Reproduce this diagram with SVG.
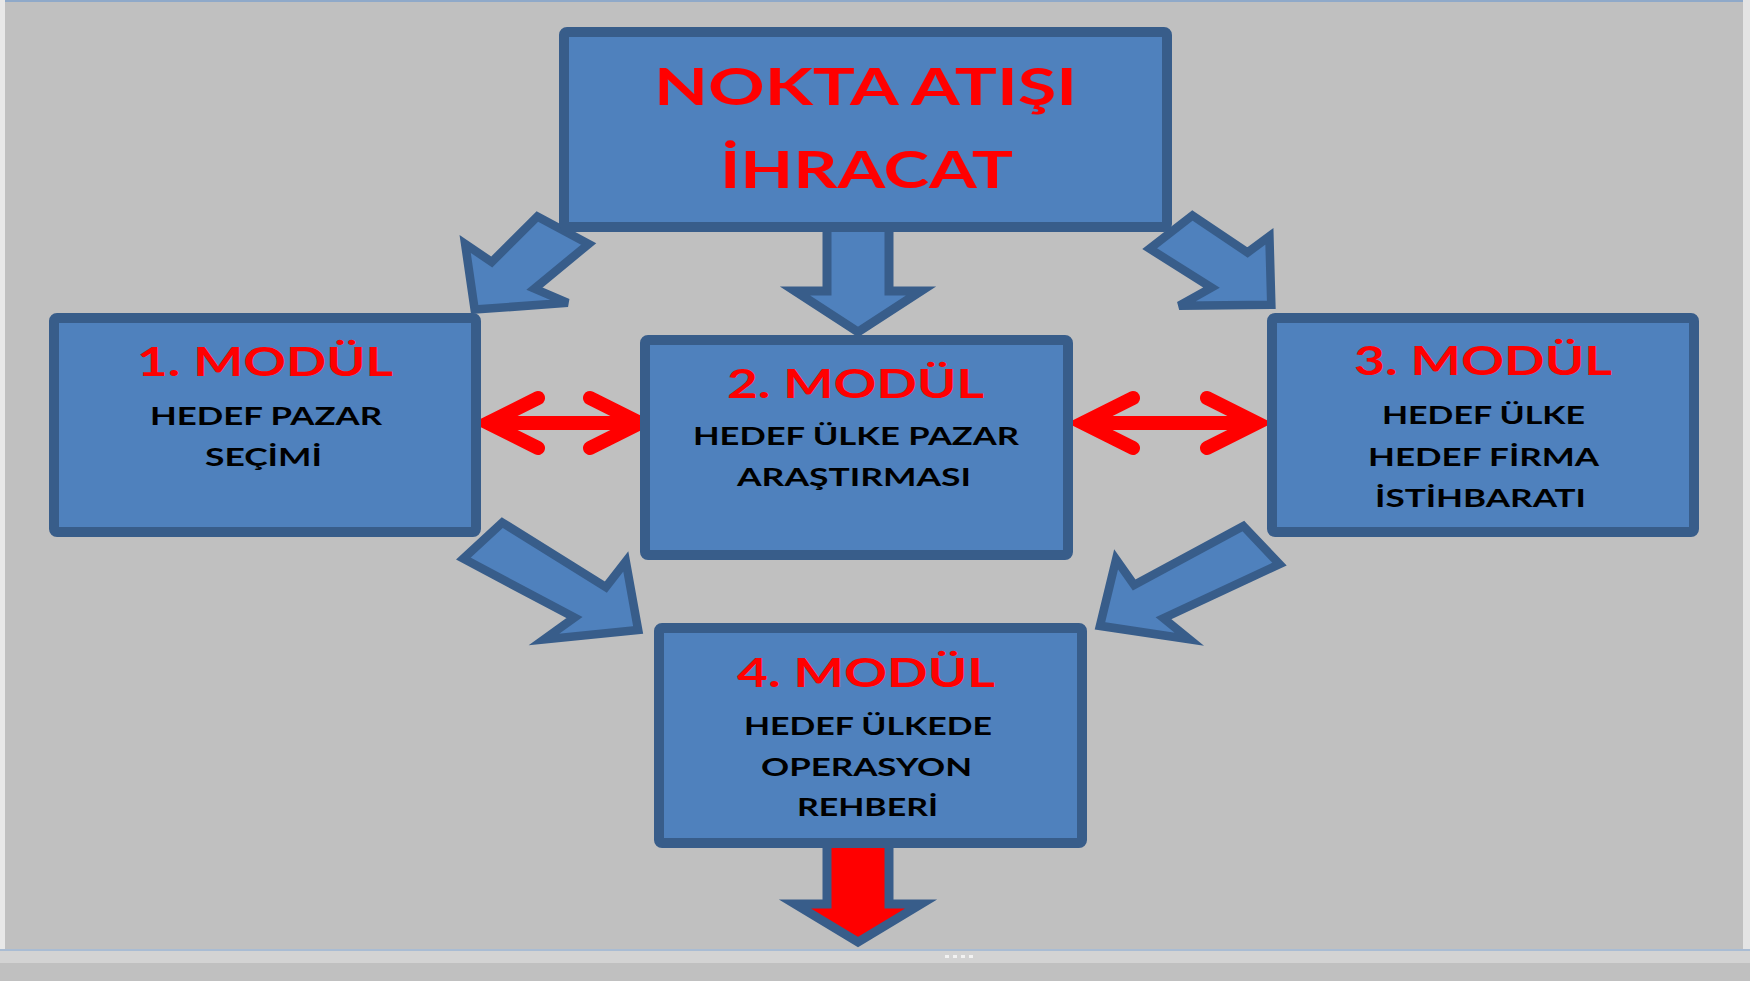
<svg xmlns="http://www.w3.org/2000/svg" width="1750" height="981" viewBox="0 0 1750 981">
  <defs>
    <style>
      .box { fill: #4f81bd; stroke: #385d8a; stroke-width: 10; }
      .barrow { fill: #4f81bd; stroke: #385d8a; stroke-width: 9; stroke-linejoin: miter; }
      .rarrow { fill: #ff0000; stroke: #385d8a; stroke-width: 9; stroke-linejoin: miter; }
      .dbl { fill: none; stroke: #ff0000; stroke-width: 14; stroke-linecap: round; stroke-linejoin: miter; stroke-miterlimit: 6; }
      .t { font-family: Lato, "Open Sans", "Liberation Sans", sans-serif; font-weight: 700; text-anchor: middle; }
      .title { fill: #ff0000; font-size: 52px; }
      .mod { fill: #ff0000; font-size: 40px; }
      .body { fill: #000000; font-size: 25px; }
    </style>
  </defs>

  <!-- background / frame -->
  <rect x="0" y="0" width="1750" height="981" fill="#c0c0c0"/>
  <rect x="0" y="0" width="1750" height="2" fill="#8fa9c9"/>
  <rect x="0" y="0" width="5" height="949" fill="#e8e8e8"/>
  <rect x="1743" y="0" width="7" height="949" fill="#e4e4e4"/>
  <rect x="0" y="949" width="1750" height="2" fill="#a9bcd3"/>
  <rect x="0" y="951" width="1750" height="12" fill="#d3d3d3"/>
  <g fill="#f2f2f2">
    <rect x="945" y="955" width="4" height="3"/>
    <rect x="953" y="955" width="4" height="3"/>
    <rect x="961" y="955" width="4" height="3"/>
    <rect x="969" y="955" width="4" height="3"/>
  </g>

  <!-- connectors -->
  <g id="connectors">
    <polygon class="barrow" points="538,214 592,243 535,290 570,305 472,312 462,243 490,262" transform="translate(525,262) scale(0.95) translate(-525,-262)"/>
    <polygon class="barrow" points="827,225 889,225 889,291 921,291 858,332 795,291 827,291"/>
    <polygon class="barrow" points="1191,213 1249,252 1272,235 1274,307 1177,308 1211,289 1146,248" transform="translate(1220,262) scale(0.95) translate(-1220,-262)"/>
    <polygon class="barrow" points="499,519 608,587 629,560 642,632 543,642 575,619 458,557" transform="translate(565,590) scale(0.95) translate(-565,-590)"/>
    <polygon class="barrow" points="1247,523 1285,563 1163,620 1190,642 1096,628 1113,558 1132,585" transform="translate(1175,585) scale(0.95) translate(-1175,-585)"/>
    <polygon class="rarrow" points="827,843 889,843 889,904 921,904 858,942 795,904 827,904"/>
    <path class="dbl" d="M490,423 H638 M538,398 L488,423 L538,448 M590,398 L640,423 L590,448"/>
    <path class="dbl" d="M1085,423 H1255 M1133,398 L1083,423 L1133,448 M1207,398 L1257,423 L1207,448"/>
  </g>

  <!-- nodes -->
  <g id="node-top">
    <rect class="box" x="564" y="32" width="603" height="195" rx="3"/>
    <text class="t title" x="865.5" y="105" textLength="423" lengthAdjust="spacingAndGlyphs">NOKTA ATIŞI</text>
    <text class="t title" x="866.5" y="188" textLength="293" lengthAdjust="spacingAndGlyphs">İHRACAT</text>
  </g>
  <g id="node-modul1">
    <rect class="box" x="54" y="318" width="422" height="214" rx="3"/>
    <text class="t mod" x="265" y="376" textLength="256" lengthAdjust="spacingAndGlyphs">1. MODÜL</text>
    <text class="t body" x="266" y="425" textLength="232" lengthAdjust="spacingAndGlyphs">HEDEF PAZAR</text>
    <text class="t body" x="263.5" y="466" textLength="117" lengthAdjust="spacingAndGlyphs">SEÇİMİ</text>
  </g>
  <g id="node-modul2">
    <rect class="box" x="645" y="340" width="423" height="215" rx="3"/>
    <text class="t mod" x="855.5" y="398" textLength="257" lengthAdjust="spacingAndGlyphs">2. MODÜL</text>
    <text class="t body" x="856" y="445" textLength="326" lengthAdjust="spacingAndGlyphs">HEDEF ÜLKE PAZAR</text>
    <text class="t body" x="854" y="486" textLength="234" lengthAdjust="spacingAndGlyphs">ARAŞTIRMASI</text>
  </g>
  <g id="node-modul3">
    <rect class="box" x="1272" y="318" width="422" height="214" rx="3"/>
    <text class="t mod" x="1483" y="375" textLength="258" lengthAdjust="spacingAndGlyphs">3. MODÜL</text>
    <text class="t body" x="1483.5" y="424" textLength="203" lengthAdjust="spacingAndGlyphs">HEDEF ÜLKE</text>
    <text class="t body" x="1483.5" y="466" textLength="231" lengthAdjust="spacingAndGlyphs">HEDEF FİRMA</text>
    <text class="t body" x="1480.5" y="507" textLength="211" lengthAdjust="spacingAndGlyphs">İSTİHBARATI</text>
  </g>
  <g id="node-modul4">
    <rect class="box" x="659" y="628" width="423" height="215" rx="3"/>
    <text class="t mod" x="866" y="687" textLength="258" lengthAdjust="spacingAndGlyphs">4. MODÜL</text>
    <text class="t body" x="868" y="735" textLength="248" lengthAdjust="spacingAndGlyphs">HEDEF ÜLKEDE</text>
    <text class="t body" x="866.5" y="776" textLength="211" lengthAdjust="spacingAndGlyphs">OPERASYON</text>
    <text class="t body" x="867.5" y="816" textLength="141" lengthAdjust="spacingAndGlyphs">REHBERİ</text>
  </g>
</svg>
